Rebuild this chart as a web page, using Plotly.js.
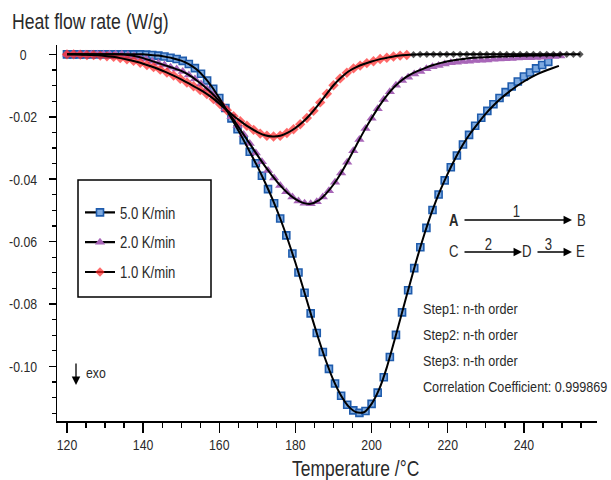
<!DOCTYPE html>
<html>
<head>
<meta charset="utf-8">
<script src="https://cdn.plot.ly/plotly-3.0.1.min.js"></script>
<style>
html,body{margin:0;padding:0;background:#fff;}
#chart{width:611px;height:480px;}
</style>
</head>
<body>
<div id="chart"></div>
<script>
// ---------- data ----------
const seriesNames = ['5.0 K/min', '2.0 K/min', '1.0 K/min'];

// 5.0 K/min measured points
const blueX = [120,121.6,123.2,124.8,126.4,128,129.6,131.2,132.8,134.4,136,137.6,139.2,140.8,142.4,144,145.6,147.2,148.8,150.4,152,153.6,155.2,156.8,158.4,160,161.6,163.2,164.8,166.4,168,169.6,171.2,172.8,174.4,176,177.6,179.2,180.8,182.4,184,185.6,187.2,188.8,190.4,192,193.6,195.2,196.8,198.4,200,201.6,203.2,204.8,206.4,208,209.6,211.2,212.8,214.4,216,217.6,219.2,220.8,222.4,224,225.6,227.2,228.8,230.4,232,233.6,235.2,236.8,238.4,240,241.6,243.2,244.8,246.4];
const blueY = [0,0,0,0,0,0,0,0,0,0,0,0,0,-0.0001,-0.0002,-0.0004,-0.0007,-0.0011,-0.0015,-0.0021,-0.0031,-0.0044,-0.0062,-0.0084,-0.0110,-0.0140,-0.0172,-0.0205,-0.0240,-0.0275,-0.0312,-0.0349,-0.0389,-0.0432,-0.0477,-0.0526,-0.0580,-0.0638,-0.0699,-0.0764,-0.0830,-0.0893,-0.0954,-0.1008,-0.1055,-0.1094,-0.1123,-0.1141,-0.1149,-0.1143,-0.1120,-0.1084,-0.1035,-0.0970,-0.0899,-0.0827,-0.0756,-0.0685,-0.0618,-0.0556,-0.0499,-0.0449,-0.0404,-0.0362,-0.0324,-0.0289,-0.0258,-0.0229,-0.0203,-0.0181,-0.0160,-0.0140,-0.0121,-0.0103,-0.0087,-0.0071,-0.0058,-0.0045,-0.0034,-0.0024];

// 2.0 K/min measured points
const purpleX = [120,121.6,123.2,124.8,126.4,128,129.6,131.2,132.8,134.4,136,137.6,139.2,140.8,142.4,144,145.6,147.2,148.8,150.4,152,153.6,155.2,156.8,158.4,160,161.6,163.2,164.8,166.4,168,169.6,171.2,172.8,174.4,176,177.6,179.2,180.8,182.4,184,185.6,187.2,188.8,190.4,192,193.6,195.2,196.8,198.4,200,201.6,203.2,204.8,206.4,208,209.6,211.2,212.8,214.4,216,217.6,219.2,220.8,222.4,224,225.6,227.2,228.8,230.4,232,233.6,235.2,236.8,238.4,240,241.6,243.2,244.8,246.4,248,249.6];
const purpleY = [0,0,0,0,0,0,0,0,0,0,-0.0002,-0.0005,-0.0010,-0.0015,-0.0022,-0.0028,-0.0034,-0.0041,-0.0047,-0.0055,-0.0066,-0.0079,-0.0095,-0.0111,-0.0129,-0.0150,-0.0174,-0.0200,-0.0228,-0.0257,-0.0286,-0.0316,-0.0344,-0.0372,-0.0396,-0.0420,-0.0440,-0.0457,-0.0470,-0.0477,-0.0479,-0.0472,-0.0457,-0.0437,-0.0410,-0.0380,-0.0346,-0.0309,-0.0273,-0.0238,-0.0205,-0.0174,-0.0145,-0.0120,-0.0099,-0.0084,-0.0073,-0.0063,-0.0055,-0.0046,-0.0040,-0.0036,-0.0031,-0.0027,-0.0025,-0.0023,-0.0022,-0.0020,-0.0019,-0.0018,-0.0016,-0.0015,-0.0014,-0.0013,-0.0012,-0.0011,-0.0011,-0.0010,-0.0009,-0.0008,-0.0007,-0.0005];

// 1.0 K/min measured points
const redX = [120,121.75,123.5,125.25,127,128.75,130.5,132.25,134,135.75,137.5,139.25,141,142.75,144.5,146.25,148,149.75,151.5,153.25,155,156.75,158.5,160.25,162,163.75,165.5,167.25,169,170.75,172.5,174.25,176,177.75,179.5,181.25,183,184.75,186.5,188.25,190,191.75,193.5,195.25,197,198.75,200.5,202.25,204,205.75,207.5,209.25,211,212.75,214.5,216.25,218,219.75,221.5,223.25,225,226.75,228.5,230.25,232,233.75,235.5,237.25,239,240.75,242.5,244.25,246,247.75,249.5,251.25,253,254.75];
const redY = [0,0,-0.0001,-0.0002,-0.0002,-0.0004,-0.0006,-0.0008,-0.0012,-0.0016,-0.0021,-0.0027,-0.0034,-0.0041,-0.0049,-0.0058,-0.0068,-0.0078,-0.0090,-0.0102,-0.0114,-0.0127,-0.0143,-0.0160,-0.0179,-0.0198,-0.0214,-0.0229,-0.0242,-0.0254,-0.0261,-0.0263,-0.0261,-0.0252,-0.0240,-0.0224,-0.0204,-0.0181,-0.0154,-0.0126,-0.0099,-0.0077,-0.0059,-0.0045,-0.0036,-0.0028,-0.0022,-0.0015,-0.0011,-0.0007,-0.0004,-0.0002,-0.0001,0,0,0,0,0,0,0,0,0,0,0,0,0,0,0,0,0,0,0,0,0,0,0,0,0];

// fitted curves
const blueFitX = [120,122,124,126,128,130,132,134,136,138,140,142,144,146,148,150,152,154,156,158,160,162,164,166,168,170,172,174,176,178,180,182,184,186,188,190,192,194,196,198,200,202,204,206,208,210,212,214,216,218,220,222,224,226,228,230,232,234,236,238,240,242,244,246,248,249.2];
const blueFitY = [0,0,0,0,0,0,0,0,0,0,0,-0.0002,-0.0004,-0.0008,-0.0013,-0.0020,-0.0031,-0.0048,-0.0072,-0.0103,-0.0140,-0.0180,-0.0222,-0.0266,-0.0312,-0.0359,-0.0410,-0.0465,-0.0526,-0.0594,-0.0668,-0.0748,-0.0830,-0.0909,-0.0982,-0.1045,-0.1094,-0.1129,-0.1147,-0.1147,-0.1120,-0.1073,-0.1003,-0.0917,-0.0827,-0.0738,-0.0651,-0.0571,-0.0499,-0.0437,-0.0382,-0.0333,-0.0289,-0.0252,-0.0220,-0.0190,-0.0164,-0.0141,-0.0121,-0.0103,-0.0087,-0.0073,-0.0061,-0.0051,-0.0042,-0.0037];

const purpleFitX = [120,122,124,126,128,130,132,134,136,138,140,142,144,146,148,150,152,154,156,158,160,162,164,166,168,170,172,174,176,178,180,182,184,186,188,190,192,194,196,198,200,202,204,206,208,210,212,214,216,218,220,222,224,226,228,230,234,238,242,246,249.6];
const purpleFitY = [0,0,0,0,0,0,0,0,-0.0002,-0.0006,-0.0012,-0.0020,-0.0028,-0.0036,-0.0044,-0.0053,-0.0066,-0.0083,-0.0102,-0.0124,-0.0150,-0.0180,-0.0214,-0.0250,-0.0286,-0.0323,-0.0358,-0.0390,-0.0420,-0.0445,-0.0464,-0.0476,-0.0479,-0.0469,-0.0447,-0.0417,-0.0380,-0.0337,-0.0291,-0.0246,-0.0205,-0.0166,-0.0132,-0.0104,-0.0082,-0.0066,-0.0054,-0.0044,-0.0035,-0.0028,-0.0022,-0.0018,-0.0015,-0.0012,-0.0010,-0.0009,-0.0007,-0.0005,-0.0004,-0.0003,-0.0003];

const redFitX = [120,122,124,126,128,130,132,134,136,138,140,142,144,146,148,150,152,154,156,158,160,162,164,166,168,170,172,174,176,178,180,182,184,186,188,190,192,194,196,198,200,202,204,206,208,210,214,220,230,240,250,254.8];
const redFitY = [0,0,-0.0001,-0.0002,-0.0003,-0.0005,-0.0008,-0.0012,-0.0017,-0.0023,-0.0030,-0.0038,-0.0047,-0.0057,-0.0068,-0.0080,-0.0093,-0.0107,-0.0121,-0.0138,-0.0158,-0.0179,-0.0200,-0.0218,-0.0235,-0.0249,-0.0259,-0.0263,-0.0261,-0.0251,-0.0236,-0.0216,-0.0191,-0.0162,-0.0130,-0.0099,-0.0074,-0.0054,-0.0041,-0.0031,-0.0023,-0.0016,-0.0011,-0.0006,-0.0003,-0.0001,0,0,0,0,0,0];

// axis ticks
const xTickVals = [120,140,160,180,200,220,240];
const yTickVals = [0,-0.02,-0.04,-0.06,-0.08,-0.10];
const yTickText = ['0','-0.02','-0.04','-0.06','-0.08','-0.10'];

const stepTexts = ['Step1: n-th order','Step2: n-th order','Step3: n-th order','Correlation Coefficient: 0.999869'];

// ---------- layout helpers ----------
const FONT = "'Liberation Sans', Arial, sans-serif";
const CONDENSE = 0.82;            // narrow the sans face to a condensed look
const L = 57, R = 597, T = 45, B = 421;
const W = R - L, H = B - T;
const px = x => (x - L) / W;
const py = y => (B - y) / H;

// gapped copy so the marker trace draws no connecting line, but the legend shows a line sample
function gapped(xs, ys) {
  const gx = [], gy = [];
  xs.forEach((x, i) => { gx.push(x, x); gy.push(ys[i], null); });
  return {x: gx, y: gy};
}
const gB = gapped(blueX, blueY), gP = gapped(purpleX, purpleY), gR = gapped(redX, redY);
const redColors = [], redSizes = [];
redX.forEach(x => {
  const tail = x > 209.5;
  redColors.push(tail ? '#111' : '#ff2a2a', tail ? '#111' : '#ff2a2a');
  redSizes.push(tail ? 5.5 : 8, tail ? 5.5 : 8);
});

const traces = [
  {x: gB.x, y: gB.y, name: seriesNames[0], legendgroup: 'a', mode: 'lines+markers', connectgaps: false,
   line: {color: '#000', width: 2.2},
   marker: {symbol: 'square', size: 7, color: '#7eaae0', line: {color: '#1f5cad', width: 1.6}}},
  {x: gP.x, y: gP.y, name: seriesNames[1], legendgroup: 'b', mode: 'lines+markers', connectgaps: false,
   line: {color: '#000', width: 2.2},
   marker: {symbol: 'triangle-up', size: 9, color: '#a866b8', line: {width: 0}}},
  {x: gR.x, y: gR.y, name: seriesNames[2], legendgroup: 'c', mode: 'lines+markers', connectgaps: false,
   line: {color: '#000', width: 2.2},
   marker: {symbol: 'diamond', size: redSizes, color: redColors, line: {width: 0}}},
  {x: blueFitX, y: blueFitY, mode: 'lines', showlegend: false, line: {color: '#000', width: 2, shape: 'spline', smoothing: 0.6}},
  {x: purpleFitX, y: purpleFitY, mode: 'lines', showlegend: false, line: {color: '#000', width: 2, shape: 'spline', smoothing: 0.6}},
  {x: redFitX, y: redFitY, mode: 'lines', showlegend: false, line: {color: '#000', width: 2, shape: 'spline', smoothing: 0.6}}
];

const ann = [];
const txt = (x, y, text, size, anchor) => ann.push({xref: 'paper', yref: 'paper', x: px(x), y: py(y), text: text,
  showarrow: false, xanchor: anchor || 'left', align: anchor || 'left', yanchor: 'middle',
  font: {family: FONT, size: size, color: '#2a2a2a'}});
const arrow = (x1, y1, x0, y0) => ann.push({xref: 'paper', yref: 'paper', x: px(x1), y: py(y1), ax: x0 - x1, ay: y0 - y1,
  text: '', showarrow: true, arrowhead: 2, arrowsize: 1.3, arrowwidth: 1.3, arrowcolor: '#000', standoff: 0, startstandoff: 0});

// y tick labels
yTickVals.forEach((v, i) => ann.push({xref: 'paper', yref: 'y', x: px(23), y: v, text: yTickText[i], showarrow: false,
  xanchor: 'center', align: 'center', yanchor: 'middle', font: {family: FONT, size: 15, color: '#2a2a2a'}}));

txt(10, 22, 'Heat flow rate (W/g)', 21.5);
txt(355, 469, 'Temperature /°C', 21.3, 'center');

// reaction scheme
txt(453.5, 220, '<b>A</b>', 16, 'center');
arrow(572, 220, 463, 220);
txt(516, 211, '1', 16, 'center');
txt(581, 220, 'B', 16, 'center');
txt(453.5, 252, 'C', 16, 'center');
arrow(522, 252, 463, 252);
txt(488, 244, '2', 16, 'center');
txt(527, 252, 'D', 16, 'center');
arrow(572, 252, 536, 252);
txt(548.5, 244, '3', 16, 'center');
txt(580, 252, 'E', 16, 'center');

stepTexts.forEach((s, i) => txt(421, 308 + i * 26.3, s, 15.4));

// exo
arrow(76, 385, 76, 362);
txt(84, 372, 'exo', 15);

const layout = {
  width: 611, height: 480,
  margin: {l: L, r: 611 - R, t: T, b: 480 - B, pad: 0},
  paper_bgcolor: '#fff', plot_bgcolor: '#fff',
  font: {family: FONT, size: 15, color: '#2a2a2a'},
  showlegend: true,
  legend: {x: px(80), y: py(195.5), xanchor: 'left', yanchor: 'top', bgcolor: 'rgba(0,0,0,0)', borderwidth: 0,
    traceorder: 'grouped', tracegroupgap: 6, font: {family: FONT, size: 16, color: '#2a2a2a'}},
  xaxis: {range: [117.38, 259.2], showgrid: false, zeroline: false, showline: true, linecolor: '#000', linewidth: 1.5,
    ticks: 'outside', ticklen: 10, tickwidth: 1.5, tickcolor: '#000', tickvals: xTickVals,
    minor: {dtick: 5, tick0: 120, ticks: 'outside', ticklen: 5, tickwidth: 1.3, tickcolor: '#000', showgrid: false},
    tickfont: {family: FONT, size: 15, color: '#2a2a2a'}, fixedrange: true},
  yaxis: {range: [-0.1175, 0.0030], showgrid: false, zeroline: false, showline: true, linecolor: '#000', linewidth: 1.5,
    ticks: 'outside', ticklen: 7, tickwidth: 1.5, tickcolor: '#000', tickvals: yTickVals, showticklabels: false,
    minor: {dtick: 0.005, tick0: 0, ticks: 'outside', ticklen: 4, tickwidth: 1.3, tickcolor: '#000', showgrid: false},
    fixedrange: true},
  shapes: [{type: 'rect', xref: 'paper', yref: 'paper', x0: px(78), x1: px(211), y0: py(297), y1: py(180),
    line: {color: '#000', width: 1.5}, fillcolor: 'rgba(0,0,0,0)'}],
  annotations: ann
};

// horizontally condense every text element about its own anchor point
function condense(gd) {
  gd.querySelectorAll('svg text').forEach(t => {
    const x = parseFloat(t.getAttribute('x') || '0');
    const tr = t.getAttribute('transform') || '';
    t.setAttribute('transform', tr + ' translate(' + x + ',0) scale(' + CONDENSE + ',1) translate(' + (-x) + ',0)');
  });
}

Plotly.newPlot('chart', traces, layout, {staticPlot: true, displayModeBar: false}).then(condense);
</script>
</body>
</html>
